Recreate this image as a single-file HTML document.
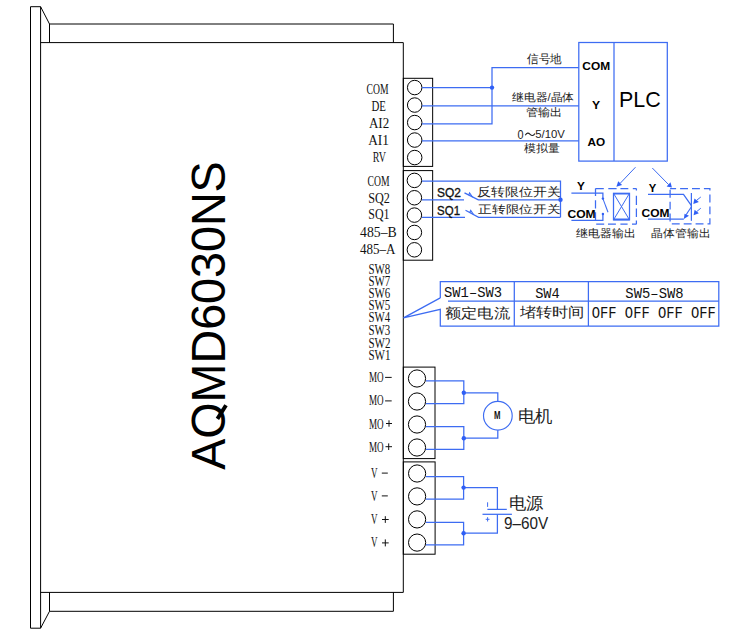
<!DOCTYPE html>
<html><head><meta charset="utf-8">
<style>
html,body{margin:0;padding:0;background:#fff;width:750px;height:637px;overflow:hidden}
svg{display:block}
</style></head><body>
<svg width="750" height="637" viewBox="0 0 750 637">
<rect width="750" height="637" fill="#fff"/>
<g id="shapes">
<!-- body outline -->
<g stroke="#000" stroke-width="1" fill="none">
<path d="M30.5 6.7 H40.6 V628.2 H30.5 Z"/>
<path d="M40.6 6.7 L49.5 24 V42.6"/>
<path d="M49.5 24 H393.4 V42.6"/>
<path d="M40.6 42.6 H403.3 V592.4 H40.6"/>
<path d="M49.5 592.4 V611.3 H393.4 V592.4"/>
<path d="M40.6 628.2 L49.5 611.3"/>
</g>
<!-- terminal blocks -->
<g stroke="#000" stroke-width="1" fill="none">
<rect x="403.3" y="78.3" width="29.35" height="88.1"/>
<rect x="403.3" y="170.6" width="29.35" height="89.6"/>
<rect x="403.3" y="367.1" width="31.7" height="91.5"/>
<rect x="403.3" y="461.9" width="31.8" height="92.3"/>
</g>
<g stroke="#000" stroke-width="1" fill="none">
<circle cx="414.7" cy="87.55" r="7.25"/>
<circle cx="414.7" cy="105.05" r="7.25"/>
<circle cx="414.7" cy="122.55" r="7.25"/>
<circle cx="414.7" cy="140.05" r="7.25"/>
<circle cx="414.7" cy="157.55" r="7.25"/>
<circle cx="414.4" cy="180.4" r="7.25"/>
<circle cx="414.4" cy="197.75" r="7.25"/>
<circle cx="414.4" cy="215.1" r="7.25"/>
<circle cx="414.4" cy="232.45" r="7.25"/>
<circle cx="414.4" cy="249.8" r="7.25"/>
<circle cx="417" cy="378.5" r="8.6"/>
<circle cx="417" cy="401.5" r="8.6"/>
<circle cx="417" cy="424.5" r="8.6"/>
<circle cx="417" cy="447.5" r="8.6"/>
<circle cx="417.1" cy="473.5" r="8.6"/>
<circle cx="417.1" cy="496.4" r="8.6"/>
<circle cx="417.1" cy="519.4" r="8.6"/>
<circle cx="417.1" cy="542.6" r="8.6"/>
</g>
<!-- signs -->
<g stroke="#111" stroke-width="1" fill="none">
<path d="M385.1 377.4 H391.7 M385.1 400.9 H391.7"/>
<path d="M386 423.5 H392 M389 420.3 V426.7 M385.5 446.7 H392 M388.7 443.4 V450"/>
<path d="M381.8 473.1 H387.8 M381.8 495.9 H387.8"/>
<path d="M382 519.5 H388.7 M385.3 516.2 V522.9 M382 542.9 H388.7 M385.3 539.4 V546.4"/>
</g>
<!-- big title -->
<text transform="translate(225.2 469.8) rotate(-90)" font-family="Liberation Sans" font-size="47.5" textLength="308.5" lengthAdjust="spacingAndGlyphs" fill="#000">AOMD6030NS</text>
<path d="M217.4 418.9 L226 405.2" stroke="#000" stroke-width="3.9" fill="none"/>

<!-- PLC wiring -->
<g stroke="#3d6cf2" stroke-width="1.25" fill="none">
<path d="M422 87.6 H492"/>
<path d="M422 123.8 H492 V67.5 H578.8"/>
<path d="M422 105.9 H578.8"/>
<path d="M422 140.8 H578.8"/>
<rect x="578.8" y="42.5" width="88.5" height="118.6"/>
<path d="M614 42.5 V161.1"/>
</g>
<circle fill="#2f5ff5" cx="492" cy="87.6" r="2.2"/>
<path d="M525.3 135.2 C526.8 132.6 528.4 132.6 530.1 134.3 C531.8 136 533.4 136 534.9 133.4" stroke="#222" stroke-width="1.1" fill="none"/>

<!-- limit switches -->
<g stroke="#3d6cf2" stroke-width="1.25" fill="none">
<path d="M422 181.2 H560.5 V217.3"/>
<path d="M422 199.9 H464 M464.5 192.9 L478.3 199.9 H560.5"/>
<path d="M422 217.3 H465 M465.5 210.3 L478.6 217.3 H560.5"/>
<path d="M468.6 195.3 L469.6 192.9 L472.6 197.3" stroke-width="1.1"/>
<path d="M469.6 212.8 L470.7 210.4 L473.7 214.8" stroke-width="1.1"/>
</g>
<circle fill="#2f5ff5" cx="560.5" cy="199.8" r="2.2"/>

<!-- relay output -->
<g stroke="#3d6cf2" stroke-width="1.25" fill="none">
<path d="M571.4 193 H602.9 V198.6"/>
<path d="M602.9 198.6 L608 212.2" stroke-width="1.05"/>
<path d="M571.4 220.3 H602.9 V214"/>
<rect x="613.5" y="193.3" width="16" height="26.6"/>
<path d="M613.5 193.8 H629.5 M613.5 219.4 H629.5" stroke-width="1.6"/>
<path d="M613.5 193.3 L629.5 219.9 M629.5 193.3 L613.5 219.9" stroke-width="1"/>
<path d="M635.5 167.2 L620.2 183.3" stroke-width="1"/>
</g>
<g stroke="#3d6cf2" stroke-width="1.25" fill="none">
<path d="M595.5 188.5 H636.4" stroke-dasharray="8.3 4.5 8.3 3.8 7.9 4.5 20"/>
<path d="M636.4 188.5 V224.2" stroke-dasharray="2.1 5.1 9.3 3.5 8.6 3.5 20"/>
<path d="M595.5 224.2 H636.4" stroke-dasharray="0 0.7 8 3.8 7.9 4.5 7.2 4.4 20"/>
<path d="M595.5 188.5 V224.2" stroke-dasharray="7.5 4.2 8.3 3.8 7.6 20"/>
</g>
<path d="M616.4 186.7 L618.2 181.2 L622.1 185.1 Z" fill="#2f5ff5"/>
<circle fill="#2f5ff5" cx="602.9" cy="198.6" r="1.2"/>
<circle fill="#2f5ff5" cx="602.9" cy="214" r="1.2"/>

<!-- transistor output -->
<g stroke="#3d6cf2" stroke-width="1.25" fill="none">
<path d="M648 194.4 H683.5 L691.4 205.6"/>
<path d="M648 219.2 H683.8"/>
<path d="M691.4 206.7 L686.2 214.6" stroke-width="1.05"/>
<path d="M691.4 193 V220.8"/>
</g>
<g stroke="#3d6cf2" stroke-width="1" fill="none">
<path d="M652.3 168 L668.6 184.6"/>
<path d="M700.8 197 L696.5 200.4"/>
<path d="M700.8 208.2 L696.7 211.6"/>
</g>
<rect x="670.1" y="188.6" width="39.8" height="35.2" fill="none" stroke="#3d6cf2" stroke-width="1.25" stroke-dasharray="7.9 4" stroke-dashoffset="1.9"/>
<path d="M671.9 187.6 L670.5 182.3 L666.6 186.5 Z" fill="#2f5ff5"/>
<path d="M683.8 219.1 L684.6 213.8 L689 215.8 Z" fill="#2f5ff5"/>
<path d="M693.3 204 L694.4 198.6 L698.9 202.1 Z" fill="#2f5ff5"/>
<path d="M693.6 215.2 L694.6 209.8 L698.9 213.3 Z" fill="#2f5ff5"/>

<!-- SW table callout -->
<g stroke="#3d6cf2" stroke-width="1.25" fill="none">
<path d="M440.3 297.9 V281.5 H718.8 V326 H440.3 V309.3 L403.5 317.9 L440.3 297.9"/>
<path d="M448 301.2 H718.8 M514.3 281.5 V326 M588.4 281.5 V326"/>
</g>

<!-- motor -->
<g stroke="#3d6cf2" stroke-width="1.25" fill="none">
<path d="M426 380.9 H463.8 V403.6 H426"/>
<path d="M463.8 392.8 H497.8 V401.4"/>
<path d="M426 426.7 H463.8 V449.4 H426"/>
<path d="M463.8 438.2 H497.8 V430.2"/>
<circle cx="497.85" cy="415.8" r="14.35" stroke-width="1.15"/>
</g>
<circle fill="#2f5ff5" cx="463.8" cy="392.8" r="2.2"/>
<circle fill="#2f5ff5" cx="463.8" cy="438.2" r="2.2"/>

<!-- power -->
<g stroke="#3d6cf2" stroke-width="1.25" fill="none">
<path d="M426 476.6 H463.6 V499 H426"/>
<path d="M463.6 487.6 H497.4 V509.4"/>
<path d="M487.4 509.4 H506.8"/>
<path d="M482.5 514.3 H511.9"/>
<path d="M497.4 514.3 V533.2 H463.6"/>
<path d="M426 522.4 H463.6 V544.8 H426"/>
<path d="M487.6 502.3 V506.9" stroke-width="1"/>
<path d="M485.7 519.3 H489.5 M487.6 517.2 V521.5" stroke-width="1"/>
</g>
<circle fill="#2f5ff5" cx="463.6" cy="487.6" r="2.2"/>
<circle fill="#2f5ff5" cx="463.6" cy="533.2" r="2.2"/>
</g>

<g id="texts">
<text id="c1" x="366.50" y="94.03" font-family='"Liberation Serif", serif' font-weight="normal" font-size="15.20" textLength="21.95" lengthAdjust="spacingAndGlyphs" fill="#111">COM</text>
<text id="de" x="371.45" y="110.97" font-family='"Liberation Serif", serif' font-weight="normal" font-size="14.91" textLength="14.45" lengthAdjust="spacingAndGlyphs" fill="#111">DE</text>
<text id="ai2" x="368.90" y="128.18" font-family='"Liberation Serif", serif' font-weight="normal" font-size="14.77" textLength="20.25" lengthAdjust="spacingAndGlyphs" fill="#111">AI2</text>
<text id="ai1" x="368.20" y="144.88" font-family='"Liberation Serif", serif' font-weight="normal" font-size="15.20" textLength="20.75" lengthAdjust="spacingAndGlyphs" fill="#111">AI1</text>
<text id="rv" x="372.75" y="161.85" font-family='"Liberation Serif", serif' font-weight="normal" font-size="14.59" textLength="13.15" lengthAdjust="spacingAndGlyphs" fill="#111">RV</text>
<text id="c2" x="367.50" y="185.75" font-family='"Liberation Serif", serif' font-weight="normal" font-size="14.78" textLength="21.95" lengthAdjust="spacingAndGlyphs" fill="#111">COM</text>
<text id="sq2l" x="368.25" y="203.03" font-family='"Liberation Serif", serif' font-weight="normal" font-size="14.64" textLength="21.70" lengthAdjust="spacingAndGlyphs" fill="#111">SQ2</text>
<text id="sq1l" x="368.25" y="218.95" font-family='"Liberation Serif", serif' font-weight="normal" font-size="14.33" textLength="21.20" lengthAdjust="spacingAndGlyphs" fill="#111">SQ1</text>
<text id="b485" x="360.05" y="236.98" font-family='"Liberation Serif", serif' font-weight="normal" font-size="14.76" textLength="36.65" lengthAdjust="spacingAndGlyphs" fill="#111">485–B</text>
<text id="a485" x="360.05" y="253.95" font-family='"Liberation Serif", serif' font-weight="normal" font-size="14.78" textLength="35.45" lengthAdjust="spacingAndGlyphs" fill="#111">485–A</text>
<text id="sw8" x="368.40" y="274.23" font-family='"Liberation Serif", serif' font-weight="normal" font-size="13.86" textLength="21.80" lengthAdjust="spacingAndGlyphs" fill="#111">SW8</text>
<text id="sw7" x="368.40" y="286.43" font-family='"Liberation Serif", serif' font-weight="normal" font-size="13.86" textLength="21.80" lengthAdjust="spacingAndGlyphs" fill="#111">SW7</text>
<text id="sw6" x="368.40" y="298.23" font-family='"Liberation Serif", serif' font-weight="normal" font-size="13.86" textLength="21.80" lengthAdjust="spacingAndGlyphs" fill="#111">SW6</text>
<text id="sw5" x="368.40" y="309.93" font-family='"Liberation Serif", serif' font-weight="normal" font-size="13.86" textLength="21.80" lengthAdjust="spacingAndGlyphs" fill="#111">SW5</text>
<text id="sw4" x="368.40" y="322.43" font-family='"Liberation Serif", serif' font-weight="normal" font-size="13.86" textLength="21.70" lengthAdjust="spacingAndGlyphs" fill="#111">SW4</text>
<text id="sw3" x="368.40" y="334.88" font-family='"Liberation Serif", serif' font-weight="normal" font-size="13.86" textLength="21.80" lengthAdjust="spacingAndGlyphs" fill="#111">SW3</text>
<text id="sw2" x="368.40" y="347.57" font-family='"Liberation Serif", serif' font-weight="normal" font-size="13.86" textLength="22.05" lengthAdjust="spacingAndGlyphs" fill="#111">SW2</text>
<text id="sw1" x="368.40" y="359.77" font-family='"Liberation Serif", serif' font-weight="normal" font-size="13.86" textLength="22.05" lengthAdjust="spacingAndGlyphs" fill="#111">SW1</text>
<text id="mo0" x="368.95" y="381.95" font-family='"Liberation Serif", serif' font-weight="normal" font-size="14.47" textLength="14.65" lengthAdjust="spacingAndGlyphs" fill="#111">MO</text>
<text id="mo1" x="368.95" y="405.45" font-family='"Liberation Serif", serif' font-weight="normal" font-size="14.47" textLength="14.65" lengthAdjust="spacingAndGlyphs" fill="#111">MO</text>
<text id="mo2" x="368.95" y="428.93" font-family='"Liberation Serif", serif' font-weight="normal" font-size="15.07" textLength="14.65" lengthAdjust="spacingAndGlyphs" fill="#111">MO</text>
<text id="mo3" x="368.95" y="451.87" font-family='"Liberation Serif", serif' font-weight="normal" font-size="15.07" textLength="14.65" lengthAdjust="spacingAndGlyphs" fill="#111">MO</text>
<text id="v0" x="370.90" y="477.95" font-family='"Liberation Serif", serif' font-weight="normal" font-size="13.89" textLength="6.55" lengthAdjust="spacingAndGlyphs" fill="#111">V</text>
<text id="v1" x="370.90" y="500.55" font-family='"Liberation Serif", serif' font-weight="normal" font-size="13.60" textLength="6.55" lengthAdjust="spacingAndGlyphs" fill="#111">V</text>
<text id="v2" x="370.90" y="523.95" font-family='"Liberation Serif", serif' font-weight="normal" font-size="13.89" textLength="6.55" lengthAdjust="spacingAndGlyphs" fill="#111">V</text>
<text id="v3" x="370.90" y="547.20" font-family='"Liberation Serif", serif' font-weight="normal" font-size="14.31" textLength="6.55" lengthAdjust="spacingAndGlyphs" fill="#111">V</text>
<text id="pcom" x="582.30" y="70.32" font-family='"Liberation Sans", sans-serif' font-weight="bold" font-size="11.44" textLength="27.75" lengthAdjust="spacingAndGlyphs" fill="#000">COM</text>
<text id="py" x="591.95" y="108.70" font-family='"Liberation Sans", sans-serif' font-weight="bold" font-size="11.72" textLength="8.15" lengthAdjust="spacingAndGlyphs" fill="#000">Y</text>
<text id="pao" x="587.45" y="146.42" font-family='"Liberation Sans", sans-serif' font-weight="bold" font-size="11.45" textLength="17.65" lengthAdjust="spacingAndGlyphs" fill="#000">AO</text>
<text id="plc" x="619.05" y="106.67" font-family='"Liberation Sans", sans-serif' font-weight="normal" font-size="22.01" textLength="41.70" lengthAdjust="spacingAndGlyphs" fill="#000">PLC</text>
<text id="xhd" x="527.40" y="63.12" font-family='"Liberation Sans", sans-serif' font-weight="normal" font-size="11.60" textLength="34.65" lengthAdjust="spacingAndGlyphs" fill="#222">信号地</text>
<text id="jdq" x="512.25" y="101.12" font-family='"Liberation Sans", sans-serif' font-weight="normal" font-size="10.52" textLength="61.95" lengthAdjust="spacingAndGlyphs" fill="#222">继电器/晶体</text>
<text id="gsc" x="525.60" y="116.42" font-family='"Liberation Sans", sans-serif' font-weight="normal" font-size="11.16" textLength="36.45" lengthAdjust="spacingAndGlyphs" fill="#222">管输出</text>
<text id="tz0" x="517.60" y="138.80" font-family='"Liberation Sans", sans-serif' font-weight="normal" font-size="12.14" textLength="6.05" lengthAdjust="spacingAndGlyphs" fill="#222">0</text>
<text id="tz5" x="535.30" y="138.43" font-family='"Liberation Sans", sans-serif' font-weight="normal" font-size="11.34" textLength="29.65" lengthAdjust="spacingAndGlyphs" fill="#222">5/10V</text>
<text id="mnl" x="523.95" y="152.40" font-family='"Liberation Sans", sans-serif' font-weight="normal" font-size="10.95" textLength="35.70" lengthAdjust="spacingAndGlyphs" fill="#222">模拟量</text>
<text id="sq2" x="437.10" y="196.80" font-family='"Liberation Sans", sans-serif' font-weight="normal" font-size="13.04" textLength="23.90" lengthAdjust="spacingAndGlyphs" fill="#111" stroke="#111" stroke-width="0.35">SQ2</text>
<text id="sq1" x="437.10" y="214.90" font-family='"Liberation Sans", sans-serif' font-weight="normal" font-size="13.04" textLength="22.90" lengthAdjust="spacingAndGlyphs" fill="#111" stroke="#111" stroke-width="0.35">SQ1</text>
<text id="fz" x="477.30" y="196.07" font-family='"Liberation Sans", sans-serif' font-weight="normal" font-size="11.98" textLength="83.70" lengthAdjust="spacingAndGlyphs" fill="#222">反转限位开关</text>
<text id="zz" x="478.45" y="213.20" font-family='"Liberation Sans", sans-serif' font-weight="normal" font-size="11.29" textLength="82.05" lengthAdjust="spacingAndGlyphs" fill="#222">正转限位开关</text>
<text id="ry" x="577.10" y="190.28" font-family='"Liberation Sans", sans-serif' font-weight="bold" font-size="11.43" textLength="7.85" lengthAdjust="spacingAndGlyphs" fill="#000">Y</text>
<text id="rcom" x="567.50" y="217.93" font-family='"Liberation Sans", sans-serif' font-weight="bold" font-size="11.15" textLength="28.15" lengthAdjust="spacingAndGlyphs" fill="#000">COM</text>
<text id="ty" x="648.75" y="192.13" font-family='"Liberation Sans", sans-serif' font-weight="bold" font-size="10.73" textLength="7.50" lengthAdjust="spacingAndGlyphs" fill="#000">Y</text>
<text id="tcom" x="641.60" y="216.72" font-family='"Liberation Sans", sans-serif' font-weight="bold" font-size="10.87" textLength="27.95" lengthAdjust="spacingAndGlyphs" fill="#000">COM</text>
<text id="jdqsc" x="576.00" y="237.28" font-family='"Liberation Sans", sans-serif' font-weight="normal" font-size="11.28" textLength="59.60" lengthAdjust="spacingAndGlyphs" fill="#222">继电器输出</text>
<text id="jtgsc" x="651.20" y="237.28" font-family='"Liberation Sans", sans-serif' font-weight="normal" font-size="11.26" textLength="59.15" lengthAdjust="spacingAndGlyphs" fill="#222">晶体管输出</text>
<text id="sw13" x="444.05" y="297.48" font-family='"Liberation Mono", monospace' font-weight="normal" font-size="14.56" textLength="58.00" lengthAdjust="spacingAndGlyphs" fill="#111">SW1–SW3</text>
<text id="tsw4" x="535.20" y="298.28" font-family='"Liberation Mono", monospace' font-weight="normal" font-size="15.09" textLength="24.55" lengthAdjust="spacingAndGlyphs" fill="#111">SW4</text>
<text id="sw58" x="625.35" y="297.65" font-family='"Liberation Mono", monospace' font-weight="normal" font-size="14.93" textLength="58.25" lengthAdjust="spacingAndGlyphs" fill="#111">SW5–SW8</text>
<text id="off" x="591.75" y="317.90" font-family='"Liberation Mono", monospace' font-weight="normal" font-size="15.60" textLength="124.15" lengthAdjust="spacingAndGlyphs" fill="#111">OFF OFF OFF OFF</text>
<text id="edl" x="444.85" y="317.62" font-family='"Liberation Sans", sans-serif' font-weight="normal" font-size="14.01" textLength="65.15" lengthAdjust="spacingAndGlyphs" fill="#222">额定电流</text>
<text id="dzsj" x="519.70" y="317.23" font-family='"Liberation Sans", sans-serif' font-weight="normal" font-size="14.15" textLength="64.90" lengthAdjust="spacingAndGlyphs" fill="#222">堵转时间</text>
<text id="m" x="494.00" y="418.50" font-family='"Liberation Sans", sans-serif' font-weight="bold" font-size="11.01" textLength="6.50" lengthAdjust="spacingAndGlyphs" fill="#111">M</text>
<text id="dj" x="517.75" y="422.17" font-family='"Liberation Sans", sans-serif' font-weight="normal" font-size="16.92" textLength="34.80" lengthAdjust="spacingAndGlyphs" fill="#222">电机</text>
<text id="dy" x="508.75" y="508.50" font-family='"Liberation Sans", sans-serif' font-weight="normal" font-size="16.60" textLength="34.60" lengthAdjust="spacingAndGlyphs" fill="#222">电源</text>
<text id="v960" x="503.95" y="529.45" font-family='"Liberation Sans", sans-serif' font-weight="normal" font-size="16.60" textLength="44.20" lengthAdjust="spacingAndGlyphs" fill="#222">9–60V</text>
</g>
</svg>
</body></html>
